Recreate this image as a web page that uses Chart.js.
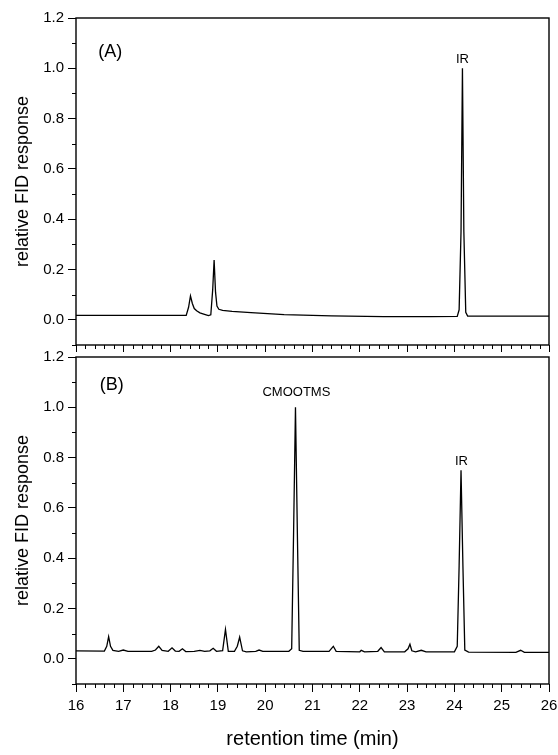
<!DOCTYPE html>
<html><head><meta charset="utf-8">
<script src="https://cdn.jsdelivr.net/npm/chart.js@4.4.1/dist/chart.umd.min.js"></script>
<style>
html,body{margin:0;padding:0;background:#fff;}
#wrap{position:relative;width:558px;height:755px;overflow:hidden;}
#cA{position:absolute;left:0;top:0;}
#cB{position:absolute;left:0;top:340px;}
</style></head><body>
<div id="wrap"><canvas id="cA" width="558" height="352"></canvas><canvas id="cB" width="558" height="415"></canvas></div>
<script>
// ---- data ----
const timeA = [16.0, 18.33, 18.38, 18.42, 18.46, 18.5, 18.55, 18.62, 18.7, 18.8, 18.85, 18.89, 18.92, 18.95, 18.98, 19.02, 19.1, 19.3, 19.7, 20.4, 21.4, 22.5, 23.5, 24.06, 24.1, 24.14, 24.17, 24.2, 24.24, 24.28, 26.0];
const respA = [0.018, 0.018, 0.05, 0.095, 0.065, 0.045, 0.036, 0.028, 0.023, 0.017, 0.02, 0.12, 0.238, 0.11, 0.055, 0.042, 0.038, 0.034, 0.029, 0.021, 0.016, 0.013, 0.013, 0.014, 0.04, 0.35, 1.0, 0.35, 0.03, 0.015, 0.015];

const timeB = [16.0, 16.6, 16.65, 16.69, 16.73, 16.78, 16.9, 17.0, 17.1, 17.6, 17.68, 17.75, 17.82, 17.95, 18.03, 18.1, 18.18, 18.25, 18.32, 18.5, 18.62, 18.72, 18.83, 18.9, 18.97, 19.1, 19.16, 19.22, 19.35, 19.41, 19.46, 19.52, 19.6, 19.8, 19.87, 19.95, 20.5, 20.56, 20.6, 20.64, 20.68, 20.72, 20.8, 21.35, 21.44, 21.5, 22.0, 22.03, 22.1, 22.38, 22.45, 22.52, 22.95, 23.02, 23.06, 23.1, 23.18, 23.3, 23.4, 24.0, 24.06, 24.1, 24.14, 24.18, 24.22, 24.3, 25.3, 25.4, 25.48, 26.0];
const respB = [0.032, 0.031, 0.05, 0.088, 0.05, 0.034, 0.03, 0.035, 0.03, 0.03, 0.035, 0.05, 0.034, 0.03, 0.044, 0.031, 0.03, 0.04, 0.029, 0.03, 0.034, 0.03, 0.032, 0.042, 0.03, 0.033, 0.117, 0.03, 0.03, 0.05, 0.086, 0.032, 0.028, 0.03, 0.035, 0.03, 0.03, 0.04, 0.5, 1.0, 0.5, 0.034, 0.03, 0.03, 0.05, 0.03, 0.028, 0.034, 0.028, 0.03, 0.045, 0.028, 0.028, 0.04, 0.058, 0.032, 0.028, 0.034, 0.028, 0.028, 0.05, 0.37, 0.75, 0.37, 0.035, 0.027, 0.026, 0.034, 0.026, 0.026];

const xTickValues = [16, 17, 18, 19, 20, 21, 22, 23, 24, 25, 26];
const yTickValues = [0.0, 0.2, 0.4, 0.6, 0.8, 1.0, 1.2];
const xMinorValues = [];
for (let i = 16; i < 26; i++) for (let k = 1; k <= 4; k++) xMinorValues.push(+(i + k * 0.2).toFixed(1));
const yMinorValues = [-0.1, 0.1, 0.3, 0.5, 0.7, 0.9, 1.1];

const labelsA = [{text: '(A)', x: 16.47, y: 1.065, size: 18, align: 'left'}, {text: 'IR', x: 24.17, y: 1.035, size: 13, align: 'center'}];
const labelsB = [{text: '(B)', x: 16.5, y: 1.09, size: 18, align: 'left'}, {text: 'CMOOTMS', x: 20.66, y: 1.06, size: 13, align: 'center'}, {text: 'IR', x: 24.15, y: 0.785, size: 13, align: 'center'}];

const FONT = "'Liberation Sans', Arial, Helvetica, sans-serif";

const decorPlugin = {
  id: 'decor',
  afterDraw(chart) {
    const ctx = chart.ctx, a = chart.chartArea;
    const xs = chart.scales.x, ys = chart.scales.y;
    ctx.save();
    ctx.strokeStyle = '#000';
    ctx.lineWidth = 1.4;
    ctx.strokeRect(a.left, a.top, a.right - a.left, a.bottom - a.top);
    ctx.lineWidth = 1;
    ctx.beginPath();
    xMinorValues.forEach(v => { const p = Math.round(xs.getPixelForValue(v)) + 0.5; ctx.moveTo(p, a.bottom); ctx.lineTo(p, a.bottom + 4); });
    yMinorValues.forEach(v => { const p = Math.round(ys.getPixelForValue(v)) + 0.5; ctx.moveTo(a.left, p); ctx.lineTo(a.left - 4, p); });
    ctx.stroke();
    const labs = chart.options.plugins.decor.labels;
    ctx.fillStyle = '#000';
    ctx.textBaseline = 'middle';
    labs.forEach(l => {
      ctx.font = l.size + 'px ' + FONT;
      ctx.textAlign = l.align;
      ctx.fillText(l.text, xs.getPixelForValue(l.x), ys.getPixelForValue(l.y));
    });
    ctx.restore();
  }
};

function makePanel(id, times, resp, labels, isBottom, padTop, xHeight) {
  const pts = times.map((t, i) => ({x: t, y: resp[i]}));
  return new Chart(document.getElementById(id), {
    type: 'line',
    data: {datasets: [{data: pts, borderColor: '#000', borderWidth: 1.3, pointRadius: 0, tension: 0, fill: false}]},
    options: {
      responsive: false, animation: false, devicePixelRatio: 1,
      layout: {padding: {left: 0, top: padTop, right: 9, bottom: 0}},
      plugins: {legend: {display: false}, tooltip: {enabled: false}, decor: {labels: labels}},
      scales: {
        x: {
          type: 'linear', min: 16, max: 26, position: 'bottom',
          afterBuildTicks: s => { s.ticks = xTickValues.map(v => ({value: v})); },
          afterFit: s => { s.height = xHeight; s.paddingLeft = 0; s.paddingRight = 0; },
          grid: {drawOnChartArea: false, drawTicks: true, tickLength: 8, tickColor: '#000', tickWidth: 1},
          border: {display: false},
          ticks: {display: isBottom, color: '#000', padding: 5, maxRotation: 0, autoSkip: false, font: {family: FONT, size: 15}, callback: v => String(v)},
          title: {display: isBottom, text: 'retention time (min)', color: '#000', font: {family: FONT, size: 20}, padding: {top: 0, bottom: 4}}
        },
        y: {
          type: 'linear', min: -0.1, max: 1.2,
          afterBuildTicks: s => { s.ticks = yTickValues.map(v => ({value: v})); },
          afterFit: s => { s.width = 76; s.paddingTop = 0; s.paddingBottom = 0; },
          grid: {drawOnChartArea: false, drawTicks: true, tickLength: 8, tickColor: '#000', tickWidth: 1},
          border: {display: false},
          ticks: {color: '#000', padding: 4, autoSkip: false, font: {family: FONT, size: 15}, callback: v => Number(v).toFixed(1)},
          title: {display: true, text: 'relative FID response', color: '#000', font: {family: FONT, size: 18}, padding: {top: 12, bottom: 0}}
        }
      }
    },
    plugins: [decorPlugin]
  });
}

makePanel('cA', timeA, respA, labelsA, false, 18, 7);
makePanel('cB', timeB, respB, labelsB, true, 17, 71);
</script>
</body></html>
